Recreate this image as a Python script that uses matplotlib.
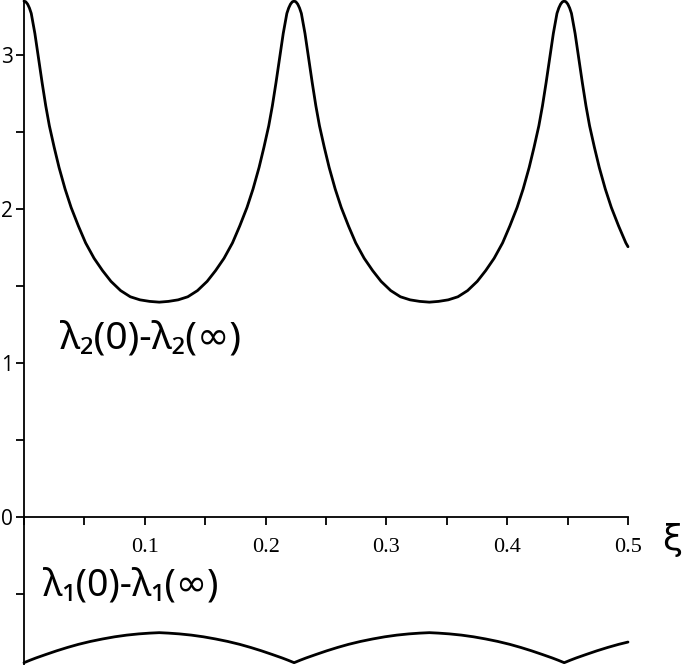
import matplotlib
matplotlib.use("Agg")
import matplotlib.pyplot as plt
from matplotlib.ticker import MultipleLocator, FixedLocator

# Upper curve: lambda_2(0) - lambda_2(inf)
x_upper = [0, 0.0015, 0.003, 0.0045, 0.006, 0.009, 0.012, 0.015, 0.018, 0.021, 0.025, 0.029, 0.034,
           0.039, 0.045, 0.051, 0.058, 0.065, 0.072, 0.080, 0.088, 0.096, 0.104, 0.112,
           0.1196, 0.1276, 0.1356, 0.1436, 0.1516, 0.1586, 0.1656, 0.1726, 0.1786, 0.1846,
           0.1896, 0.1946, 0.1986, 0.2026, 0.2056, 0.2086, 0.2116, 0.2146, 0.2176, 0.2191,
           0.2206, 0.2221, 0.2236,
           0.2251, 0.2266, 0.2281, 0.2296, 0.2326, 0.2356, 0.2386, 0.2416, 0.2446, 0.2486,
           0.2526, 0.2576, 0.2626, 0.2686, 0.2746, 0.2816, 0.2886, 0.2956, 0.3036, 0.3116,
           0.3196, 0.3276, 0.3356,
           0.3432, 0.3512, 0.3592, 0.3672, 0.3752, 0.3822, 0.3892, 0.3962, 0.4022, 0.4082,
           0.4132, 0.4182, 0.4222, 0.4262, 0.4292, 0.4322, 0.4352, 0.4382, 0.4412, 0.4427,
           0.4442, 0.4457, 0.4472,
           0.4487, 0.4502, 0.4517, 0.4532, 0.4562, 0.4592, 0.4622, 0.4652, 0.4682, 0.4722,
           0.4762, 0.4812, 0.4862, 0.4922, 0.4982, 0.5]
y_upper = [3.35, 3.345, 3.33, 3.305, 3.27, 3.14, 2.98, 2.82, 2.67, 2.54, 2.40, 2.27, 2.13,
           2.01, 1.89, 1.78, 1.68, 1.60, 1.53, 1.47, 1.43, 1.41, 1.40, 1.395,
           1.40, 1.41, 1.43, 1.47, 1.53, 1.60, 1.68, 1.78, 1.89, 2.01,
           2.13, 2.27, 2.40, 2.54, 2.67, 2.82, 2.98, 3.14, 3.27, 3.305,
           3.33, 3.345, 3.35,
           3.345, 3.33, 3.305, 3.27, 3.14, 2.98, 2.82, 2.67, 2.54, 2.40,
           2.27, 2.13, 2.01, 1.89, 1.78, 1.68, 1.60, 1.53, 1.47, 1.43,
           1.41, 1.40, 1.395,
           1.40, 1.41, 1.43, 1.47, 1.53, 1.60, 1.68, 1.78, 1.89, 2.01,
           2.13, 2.27, 2.40, 2.54, 2.67, 2.82, 2.98, 3.14, 3.27, 3.305,
           3.33, 3.345, 3.35,
           3.345, 3.33, 3.305, 3.27, 3.14, 2.98, 2.82, 2.67, 2.54, 2.40,
           2.27, 2.13, 2.01, 1.89, 1.78, 1.755]

# Lower curve: lambda_1(0) - lambda_1(inf)
x_lower = [0, 0.005, 0.010, 0.018, 0.027, 0.036, 0.045, 0.055, 0.065, 0.075, 0.085, 0.095,
           0.104, 0.112,
           0.1196, 0.1286, 0.1386, 0.1486, 0.1586, 0.1686, 0.1786, 0.1876, 0.1966, 0.2056,
           0.2136, 0.2186, 0.2236,
           0.2286, 0.2336, 0.2416, 0.2506, 0.2596, 0.2686, 0.2786, 0.2886, 0.2986, 0.3086,
           0.3186, 0.3276, 0.3356,
           0.3432, 0.3522, 0.3622, 0.3722, 0.3822, 0.3922, 0.4022, 0.4112, 0.4202, 0.4292,
           0.4372, 0.4422, 0.4472,
           0.4522, 0.4572, 0.4652, 0.4742, 0.4832, 0.4922, 0.5]
y_lower = [-0.946, -0.930, -0.915, -0.893, -0.869, -0.847, -0.827, -0.808, -0.792, -0.778,
           -0.767, -0.759, -0.754, -0.751,
           -0.754, -0.759, -0.767, -0.778, -0.792, -0.808, -0.827, -0.847, -0.869, -0.893,
           -0.915, -0.930, -0.946,
           -0.930, -0.915, -0.893, -0.869, -0.847, -0.827, -0.808, -0.792, -0.778, -0.767,
           -0.759, -0.754, -0.751,
           -0.754, -0.759, -0.767, -0.778, -0.792, -0.808, -0.827, -0.847, -0.869, -0.893,
           -0.915, -0.930, -0.946,
           -0.930, -0.915, -0.893, -0.869, -0.847, -0.827, -0.812]

x_ticks = [0.1, 0.2, 0.3, 0.4, 0.5]
x_tick_labels = ["0.1", "0.2", "0.3", "0.4", "0.5"]
y_ticks = [0, 1, 2, 3]
y_tick_labels = ["0", "1", "2", "3"]

W, H = 685, 665
fig = plt.figure(figsize=(W / 100, H / 100), dpi=100)
ax = fig.add_axes([24 / W, 0, 604 / W, 1])
ax.set_xlim(0, 0.5)
ax.set_ylim(-0.961, 3.357)

ax.plot(x_upper, y_upper, color="black", lw=2.0, clip_on=False,
        solid_joinstyle="round", solid_capstyle="round")
ax.plot(x_lower, y_lower, color="black", lw=2.0, clip_on=False,
        solid_joinstyle="round", solid_capstyle="round")

for s in ["top", "right"]:
    ax.spines[s].set_visible(False)
ax.spines["bottom"].set_position(("data", 0))
ax.spines["bottom"].set_linewidth(1.3)
ax.spines["left"].set_linewidth(1.3)

ax.xaxis.set_major_locator(FixedLocator(x_ticks))
ax.set_xticklabels(x_tick_labels, family="Liberation Serif", fontsize=16)
ax.xaxis.set_minor_locator(MultipleLocator(0.05))
ax.yaxis.set_major_locator(FixedLocator(y_ticks))
ax.set_yticklabels(y_tick_labels, family="Open Sans", fontsize=15)
ax.yaxis.set_minor_locator(MultipleLocator(0.5))
ax.tick_params(axis="x", which="both", direction="out", length=6, width=1.3, pad=9)
ax.tick_params(axis="y", which="both", direction="out", length=6, width=1.3, pad=2)

label_family = ["Noto Sans", "DejaVu Sans"]
ax.text(0.0298, 1.162, "λ₂(0)-λ₂(∞)", family=label_family, fontsize=28,
        ha="left", va="center")
ax.text(0.0157, -0.448, "λ₁(0)-λ₁(∞)", family=label_family, fontsize=27,
        ha="left", va="center")
ax.text(0.537, -0.149, "ξ", family="DejaVu Sans", fontsize=26,
        ha="center", va="center", clip_on=False)

fig.savefig("out.png", dpi=100)
